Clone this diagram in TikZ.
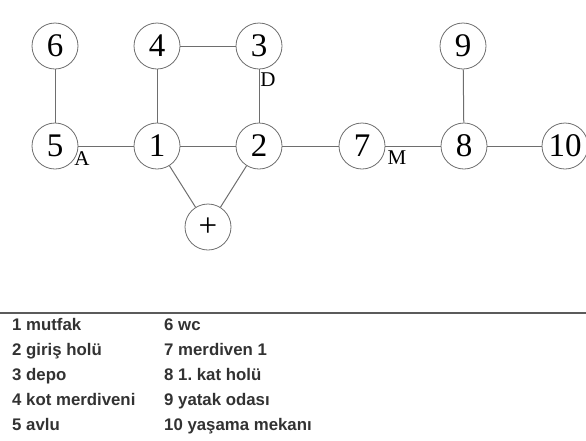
\documentclass[tikz,border=0pt]{standalone}
\usepackage{fontspec}
\setmainfont{Liberation Serif}
\newfontfamily\legendfont{Liberation Sans}
\usetikzlibrary{positioning}
\definecolor{edge-gray}{RGB}{110, 110, 110}
\definecolor{legend-gray}{RGB}{50, 50, 50}

\tikzset{
  room/.style={circle, draw=edge-gray, line width=0.8pt, minimum size=46pt,
    inner sep=0pt, font=\fontsize{33}{33}\selectfont},
  link/.style={draw=edge-gray, line width=1pt},
  tag/.style={inner sep=0pt, font=\fontsize{21}{21}\selectfont},
  legend/.style={anchor=base west, inner sep=0pt, text=legend-gray,
    font=\legendfont\bfseries\fontsize{16.8}{16.8}\selectfont\frenchspacing}
}

\begin{document}
\begin{tikzpicture}[x=1pt, y=-1pt]
\useasboundingbox (0,0) rectangle (586,440);

% upper row
\node[room] (r6) at (55,46) {6};
\node[room] (r4) at (157,46) {4};
\node[room] (r3) at (259,46) {3};
\node[room] (r9) at (463,46) {9};

% middle row
\node[room] (r5) at (55,146) {5};
\node[room] (r1) at (157,146) {1};
\node[room] (r2) at (259,146) {2};
\node[room] (r7) at (362,146) {7};
\node[room] (r8) at (464,146) {8};
\node[room] (r10) at (565,146) {10};

\node[room] (entry) at (208,227) {+};

\draw[link] (r6) -- (r5);
\draw[link] (r4) -- (r1);
\draw[link] (r4) -- (r3);
\draw[link] (r3) -- (r2);
\draw[link] (r5) -- (r1);
\draw[link] (r1) -- (r2);
\draw[link] (r2) -- (r7);
\draw[link] (r7) -- (r8);
\draw[link] (r9) -- (r8);
\draw[link] (r8) -- (r10);
\draw[link] (r1) -- (entry);
\draw[link] (r2) -- (entry);

\node[tag] (tagA) at (82,159) {A};
\node[tag] (tagD) at (268,80) {D};
\node[tag] (tagM) at (397,158) {M};

% legend
\coordinate (ruleL) at (0,313);
\coordinate (ruleR) at (586,313);
\draw[draw=legend-gray!80, line width=1.6pt] (ruleL) -- (ruleR);

\node[legend] (l1) at (12,330) {1 mutfak};
\node[legend] (l2) at (12,355) {2 giriş holü};
\node[legend] (l3) at (12,380) {3 depo};
\node[legend] (l4) at (12,405) {4 kot merdiveni};
\node[legend] (l5) at (12,430) {5 avlu};
\node[legend] (l6) at (164,330) {6 wc};
\node[legend] (l7) at (164,355) {7 merdiven 1};
\node[legend] (l8) at (164,380) {8 1. kat holü};
\node[legend] (l9) at (164,405) {9 yatak odası};
\node[legend] (l10) at (164,430) {10 yaşama mekanı};
\end{tikzpicture}
\end{document}
